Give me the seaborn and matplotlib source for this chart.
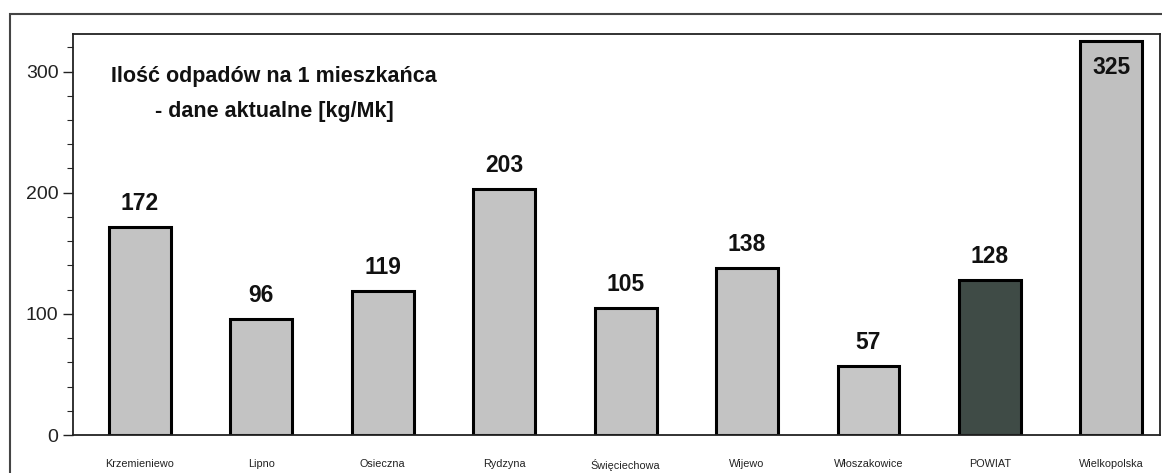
import matplotlib
matplotlib.use("Agg")
import matplotlib.pyplot as plt
import seaborn as sns
from matplotlib.ticker import MultipleLocator
from matplotlib.patches import Rectangle

categories = ["Krzemieniewo", "Lipno", "Osieczna", "Rydzyna", "Święciechowa",
              "Wijewo", "Włoszakowice", "POWIAT", "Wielkopolska"]
values = [172, 96, 119, 203, 105, 138, 57, 128, 325]
bar_colors = ["#c3c3c3", "#c3c3c3", "#c3c3c3", "#c3c3c3", "#c3c3c3",
              "#c3c3c3", "#c6c6c6", "#3f4b46", "#c0c0c0"]
title_text = "Ilość odpadów na 1 mieszkańca\n- dane aktualne [kg/Mk]"

sns.set_theme(style="white")
plt.rcParams["font.family"] = ["Liberation Sans", "DejaVu Sans"]

fig = plt.figure(figsize=(11.62, 4.73), dpi=100)
ax = fig.add_axes([73/1162, (473-435)/473, (1160-73)/1162, (435-34)/473])

sns.barplot(x=categories, y=values, hue=categories, palette=bar_colors,
            legend=False, width=0.51, edgecolor="black", linewidth=2.2, ax=ax,
            saturation=1)

ax.set_ylim(0, 331)
ax.set_xlim(-0.55, 8.40)
ax.yaxis.set_major_locator(MultipleLocator(100))
ax.yaxis.set_minor_locator(MultipleLocator(20))
ax.tick_params(axis="y", which="major", left=True, length=7, width=1, labelsize=14, colors="#222222")
ax.tick_params(axis="y", which="minor", left=True, length=4, width=0.8)
ax.tick_params(axis="x", bottom=False, labelsize=7.8, pad=11)
for lbl in ax.get_xticklabels():
    lbl.set_color("#222222")
ax.set_xlabel("")
ax.set_ylabel("")

for s in ["left", "top", "bottom", "right"]:
    ax.spines[s].set_color("#222222")
    ax.spines[s].set_linewidth(1.3)

for i, v in enumerate(values):
    if v > 300:
        ax.text(i, v - 12, str(v), ha="center", va="top", fontsize=16.5, fontweight="bold", color="#111111")
    else:
        ax.text(i, v + 10, str(v), ha="center", va="bottom", fontsize=16.5, fontweight="bold", color="#111111")

ax.text(0.185, 0.92, title_text, transform=ax.transAxes, ha="center", va="top",
        multialignment="center", fontsize=15.5, fontweight="bold", color="#111111",
        linespacing=1.85)

fig.patches.append(Rectangle((10/1162, -0.01), 1.0, (473-14)/473 + 0.01, transform=fig.transFigure,
                             fill=False, edgecolor="#444444", linewidth=1.5))

fig.savefig("out.png", dpi=100, facecolor="white")
